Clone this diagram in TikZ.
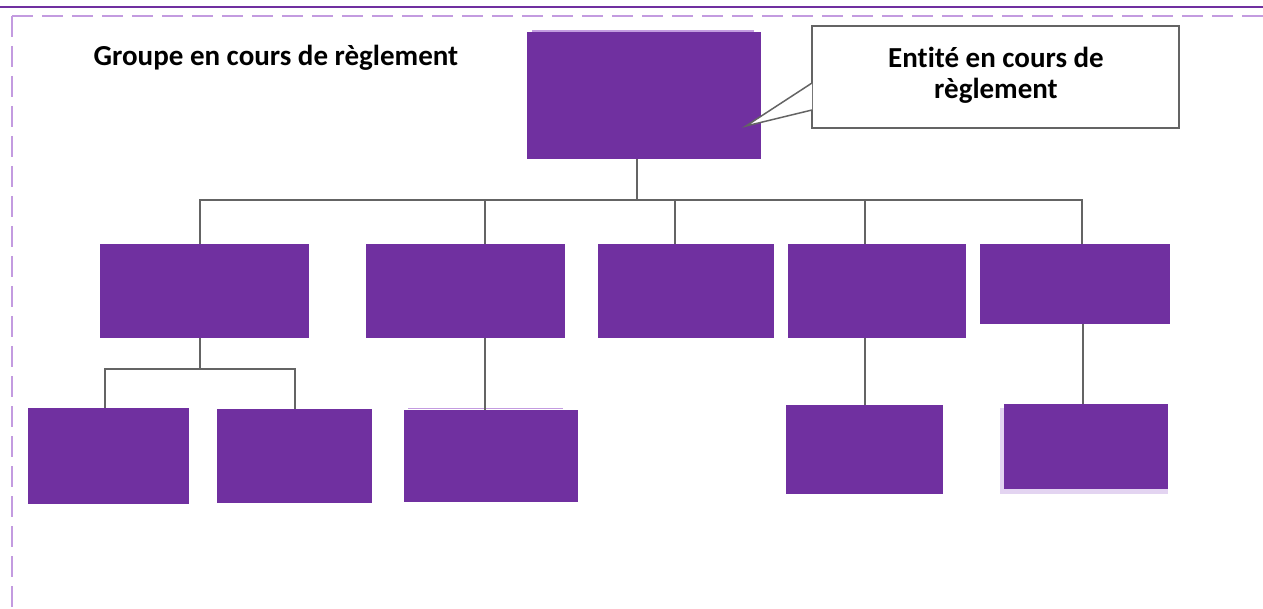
\documentclass[tikz,border=0pt]{standalone}
\usepackage{fontspec}
\setmainfont{Carlito}[Ligatures=NoCommon]
\definecolor{opurple}{HTML}{7030A0}
\definecolor{lpurple}{HTML}{C39BE0}
\definecolor{spurple}{HTML}{E3D4F1}
\definecolor{cgray}{HTML}{646464}
\begin{document}
\begin{tikzpicture}[x=1pt,y=-1pt,
  pbox/.style={fill=opurple,draw=none,inner sep=0pt,outer sep=0pt},
  conn/.style={draw=cgray,line width=2pt},
  lbl/.style={font=\fontsize{29}{31}\selectfont\bfseries,align=center,inner sep=0pt}]
\useasboundingbox (0,0) rectangle (1263,609);
% top rule and dashed frame
\coordinate (ruleL) at (0,7);
\coordinate (ruleR) at (1263,7);
\draw[opurple,line width=2pt] (ruleL) -- (ruleR);
\coordinate (fr) at (12,16);
\coordinate (frR) at (1263,16);
\coordinate (frB) at (12,609);
\draw[lpurple,line width=2.5pt,dash pattern=on 21pt off 9pt] (fr) -- (frR);
\draw[lpurple,line width=2.5pt,dash pattern=on 21pt off 9pt] (fr) -- (frB);
% title
\node[lbl] (title) at (276,58) {Groupe en cours de règlement};
% shadows / artifacts
\draw[lpurple,line width=1.2pt] (532,31) -- (754,31);
\draw[lpurple,line width=1.2pt] (408,408.5) -- (563,408.5);
\fill[spurple] (1000,408) rectangle (1168,494);
% boxes
\node[pbox,minimum width=234pt,minimum height=127pt] (top) at (644,95.5) {};
\node[pbox,minimum width=209pt,minimum height=94pt] (B1) at (204.5,291) {};
\node[pbox,minimum width=199pt,minimum height=94pt] (B2) at (465.5,291) {};
\node[pbox,minimum width=176pt,minimum height=94pt] (B3) at (686,291) {};
\node[pbox,minimum width=178pt,minimum height=94pt] (B4) at (877,291) {};
\node[pbox,minimum width=190pt,minimum height=80pt] (B5) at (1075,284) {};
\node[pbox,minimum width=161pt,minimum height=96pt] (C1) at (108.5,456) {};
\node[pbox,minimum width=155pt,minimum height=94pt] (C2) at (294.5,456) {};
\node[pbox,minimum width=174pt,minimum height=92pt] (C3) at (491,456) {};
\node[pbox,minimum width=157pt,minimum height=89pt] (C4) at (864.5,449.5) {};
\node[pbox,minimum width=164pt,minimum height=85pt] (C5) at (1086,446.5) {};
% connector columns
\coordinate (xt) at (637,200);
\coordinate (x1) at (200,200);
\coordinate (x2) at (485,200);
\coordinate (x3) at (675,200);
\coordinate (x4) at (865,200);
\coordinate (x5) at (1082,200);
\coordinate (sub) at (200,369);
\coordinate (xc1) at (105,369);
\coordinate (xc2) at (295,369);
\coordinate (xc5) at (1083,369);
% top level
\draw[conn] (xt |- top.south) -- (xt);
\draw[conn] (x1 |- B1.north) -- (x1) -- (x5) -- (x5 |- B5.north);
\draw[conn] (x2) -- (x2 |- B2.north);
\draw[conn] (x3) -- (x3 |- B3.north);
\draw[conn] (x4) -- (x4 |- B4.north);
% second level
\draw[conn] (x1 |- B1.south) -- (sub);
\draw[conn] (xc1 |- C1.north) -- (xc1) -- (xc2) -- (xc2 |- C2.north);
\draw[conn] (x2 |- B2.south) -- (x2 |- C3.north);
\draw[conn] (x4 |- B4.south) -- (x4 |- C4.north);
\draw[conn] (xc5 |- B5.south) -- (xc5 |- C5.north);
% callout
\node[draw=cgray,line width=1.5pt,fill=white,minimum width=367pt,minimum height=102pt,inner sep=0pt] (call) at (995.5,77) {};
\node[lbl] (calltxt) at (996,75.5) {Entité en cours de\\règlement};
\coordinate (pa) at (812,83);
\coordinate (pb) at (812,110);
\coordinate (tip) at (746,126);
\fill[white] (pa) -- (tip) -- (pb) -- cycle;
\draw[cgray,line width=1.5pt,line join=miter] (pa) -- (tip) -- (pb);
\end{tikzpicture}
\end{document}
